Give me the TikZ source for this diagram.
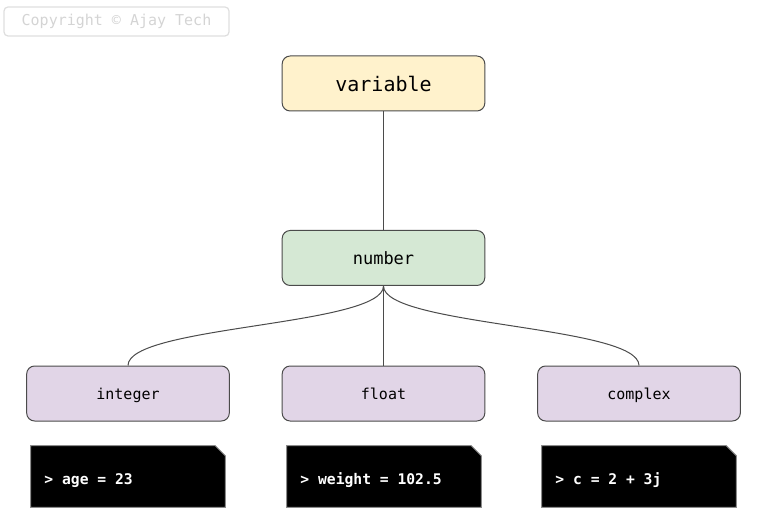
\documentclass[tikz,border=0pt]{standalone}
\usepackage{fontspec}
\setmonofont{DejaVu Sans Mono}
\usetikzlibrary{calc}
\usetikzlibrary{positioning}
\definecolor{custom-yellow}{RGB}{255, 242, 204}
\definecolor{custom-green}{RGB}{213, 232, 212}
\definecolor{custom-purple}{RGB}{225, 213, 231}
\definecolor{custom-stroke}{RGB}{75, 75, 75}
\tikzset{
  box/.style={draw=custom-stroke, line width=0.75pt, rounded corners=6pt,
    minimum width=152pt, minimum height=41.25pt, text depth=0pt, font=\ttfamily},
  codebox/.style={inner sep=0pt, minimum width=145.5pt, minimum height=45.75pt},
  codetext/.style={anchor=west, text=white, text height=8pt, text depth=0pt,
    font=\ttfamily\bfseries\fontsize{11}{13}\selectfont},
  link/.style={draw=custom-stroke, line width=0.75pt}
}

\begin{document}
\begin{tikzpicture}[x=0.75pt, y=-0.75pt]
\useasboundingbox (0,0) rectangle (766,530);

\node[draw=black!13, line width=0.9pt, rounded corners=3pt, minimum width=168.75pt,
  minimum height=21.75pt, text=black!17, font=\ttfamily\fontsize{11.25}{13}\selectfont]
  (copy) at (116.5,21.5) {Copyright © Ajay Tech};

\node[box, fill=custom-yellow, font=\ttfamily\fontsize{15}{18}\selectfont] (var) at (383.5,83.5) {variable};
\node[box, fill=custom-green, font=\ttfamily\fontsize{12.75}{15}\selectfont] (num) at (383.5,258) {number};

\node[box, fill=custom-purple, font=\ttfamily\fontsize{11.25}{13}\selectfont] (int) at (128,393.5) {integer};
\node[box, fill=custom-purple, font=\ttfamily\fontsize{11.25}{13}\selectfont] (flt) at (383.5,393.5) {float};
\node[box, fill=custom-purple, font=\ttfamily\fontsize{11.25}{13}\selectfont] (cpx) at (639,393.5) {complex};

\draw[link] (var) -- (num);
\draw[link] (num.south) .. controls ($(num.south)+(0,40)$) and ($(int.north)+(0,-40)$) .. (int.north);
\draw[link] (num) -- (flt);
\draw[link] (num.south) .. controls ($(num.south)+(0,40)$) and ($(cpx.north)+(0,-40)$) .. (cpx.north);

% code samples
\node[codebox] (c1) at (128,476.5) {};
\node[codebox] (c2) at (384,476.5) {};
\node[codebox] (c3) at (639,476.5) {};
\foreach \c in {c1,c2,c3}
  \filldraw[fill=black, draw=black!45, line width=0.75pt] (\c.south west) |- ($(\c.north east)+(-10,0)$)
    -- ($(\c.north east)+(0,10)$) |- cycle;

\node[codetext] (t1) at ($(c1.west)+(9,3)$) {> age = 23};
\node[codetext] (t2) at ($(c2.west)+(9,3)$) {> weight = 102.5};
\node[codetext] (t3) at ($(c3.west)+(9,3)$) {> c = 2 + 3j};

\end{tikzpicture}
\end{document}
